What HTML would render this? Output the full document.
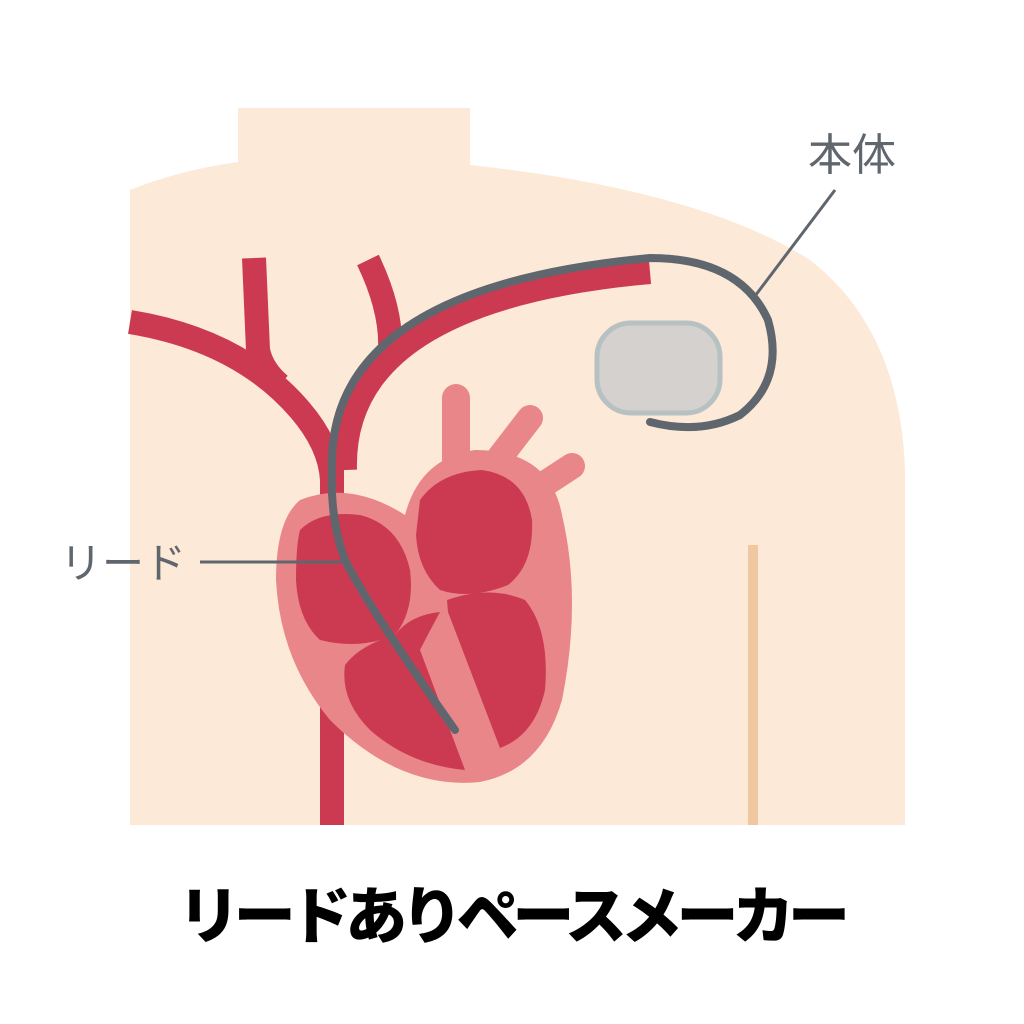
<!DOCTYPE html>
<html><head><meta charset="utf-8"><style>
html,body{margin:0;padding:0;background:#fff;}
svg{display:block}
</style></head><body>
<svg width="1024" height="1024" viewBox="0 0 1024 1024" xmlns="http://www.w3.org/2000/svg">
<rect width="1024" height="1024" fill="#fff"/>
<path d="M130 190 Q180 170 238 162 L238 108 L470 108 L470 165 Q700 190 810 260 Q900 330 905 470 L905 825 L130 825 Z" fill="#fde9d7"/>
<rect x="748" y="545" width="10" height="280" fill="#f1c7a1"/>
<g fill="none" stroke="#cc3a52" stroke-width="24" stroke-linecap="butt">
<path d="M130 322 Q240 340 300 410 Q330 445 332 480"/>
<path d="M254 258 Q256 300 258 350 Q262 370 280 385"/>
<path d="M368 260 Q392 310 390 350 Q370 380 345 420"/>
<path d="M332 470 L332 825"/>
<path d="M345 470 Q340 300 650 272"/>
</g>
<g>
<line x1="456" y1="398" x2="456" y2="470" stroke="#e9868a" stroke-width="28" stroke-linecap="round"/>
<line x1="530" y1="418" x2="490" y2="470" stroke="#e9868a" stroke-width="26" stroke-linecap="round"/>
<line x1="572" y1="466" x2="520" y2="500" stroke="#e9868a" stroke-width="26" stroke-linecap="round"/>
<path d="M300 500 Q350 480 405 515 Q420 458 475 450 Q550 450 562 515 Q582 600 562 700 Q542 770 480 782 Q400 790 330 720 Q280 660 276 580 Q276 520 300 500 Z" fill="#e9868a"/>
<path d="M300 530 Q320 510 360 515 Q400 525 410 570 Q415 610 395 635 Q360 650 320 640 Q298 620 296 580 Q296 545 300 530 Z" fill="#cc3a52"/>
<path d="M420 500 Q440 472 482 470 Q525 476 532 520 Q534 565 508 585 Q470 600 440 590 Q418 570 416 535 Z" fill="#cc3a52"/>
<path d="M395 635 Q410 615 440 612 Q425 640 420 650 L465 770 Q410 765 370 730 Q340 700 345 665 Q360 645 395 635 Z" fill="#cc3a52"/>
<path d="M447 600 Q490 585 525 600 Q550 630 545 690 Q535 735 500 748 L448 612 Z" fill="#cc3a52"/>
</g>
<rect x="597" y="323" width="123" height="90" rx="34" fill="#d4d1cf" stroke="#b6c1c1" stroke-width="5"/>
<path d="M455 730 Q370 610 345 560 Q330 520 332 470 Q326 288 650 258 Q740 258 768 320 Q785 380 740 415 Q700 435 650 422" fill="none" stroke="#5f666d" stroke-width="8" stroke-linecap="round"/>
<line x1="200" y1="562" x2="345" y2="562" stroke="#5f666d" stroke-width="3"/>
<line x1="835" y1="190" x2="752" y2="300" stroke="#5f666d" stroke-width="3"/>
<text x="60" y="578" font-family="'Liberation Sans','Noto Sans CJK JP',sans-serif" font-size="42" fill="#5f666d">リード</text>
<text x="808" y="170" font-family="'Liberation Sans','Noto Sans CJK JP',sans-serif" font-size="44" fill="#5f666d">本体</text>
<text x="514" y="938" text-anchor="middle" font-family="'Liberation Sans','Noto Sans CJK JP',sans-serif" font-size="62" font-weight="900" fill="#000" textLength="672">リードありペースメーカー</text>
</svg>
</body></html>
